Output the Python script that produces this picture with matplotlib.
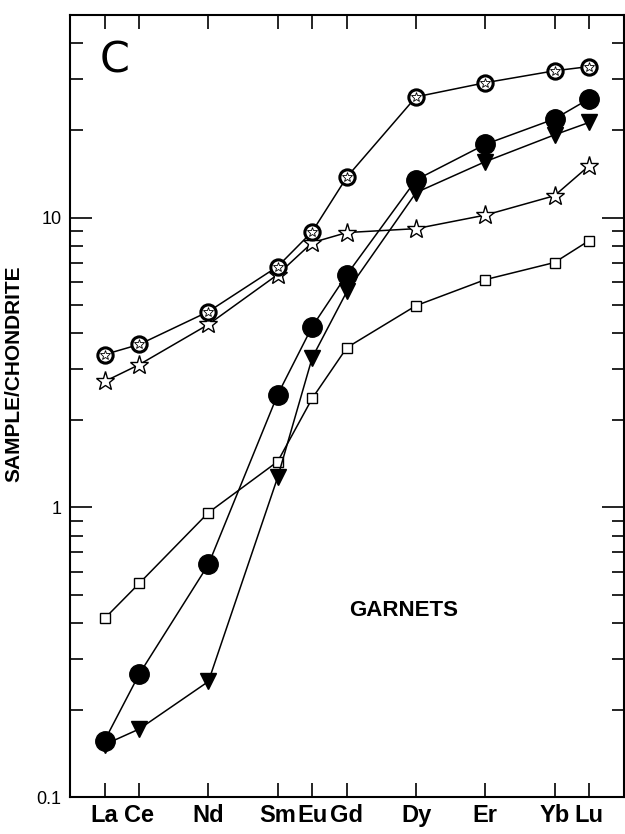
import numpy as np
import matplotlib
matplotlib.use("Agg")
import matplotlib.pyplot as plt
from matplotlib.ticker import LogLocator, NullFormatter, FixedLocator

# rare earth elements, plotted at their atomic numbers
elements = ["La", "Ce", "Nd", "Sm", "Eu", "Gd", "Dy", "Er", "Yb", "Lu"]
atomic_no = [57, 58, 60, 62, 63, 64, 66, 68, 70, 71]

# chondrite-normalised REE for five garnets
ree_circle_star = [3.37, 3.65, 4.74, 6.78, 8.95, 13.8, 26.1, 29.2, 32.1, 33.2]
ree_open_star = [2.72, 3.11, 4.28, 6.36, 8.2, 8.88, 9.16, 10.2, 11.9, 15.1]
ree_filled_circle = [0.157, 0.266, 0.636, 2.45, 4.21, 6.36, 13.5, 17.9, 21.9, 25.7]
ree_filled_tri = [0.152, 0.172, 0.251, 1.27, 3.29, 5.56, 12.2, 15.6, 19.3, 21.3]
ree_open_square = [0.414, 0.547, 0.96, 1.44, 2.38, 3.56, 4.97, 6.11, 7.0, 8.33]

bold_font = ["Liberation Sans", "DejaVu Sans"]

fig = plt.figure(figsize=(6.25, 8.34), dpi=100)
ax = fig.add_axes([0.112, 0.044, 0.886, 0.938])

lw = 1.1
ax.plot(atomic_no, ree_open_square, color="black", lw=lw, marker="s", ms=7.5,
        mfc="white", mec="black", mew=1.0, zorder=3)
ax.plot(atomic_no, ree_filled_tri, color="black", lw=lw, marker="v", ms=11,
        mfc="black", mec="black", zorder=3)
ax.plot(atomic_no, ree_filled_circle, color="black", lw=lw, marker="o", ms=14,
        mfc="black", mec="black", zorder=4)
ax.plot(atomic_no, ree_open_star, color="black", lw=lw, marker="*", ms=14,
        mfc="white", mec="black", mew=1.0, zorder=3)
ax.plot(atomic_no, ree_circle_star, color="black", lw=lw, marker="o", ms=11,
        mfc="white", mec="black", mew=2.2, zorder=5)
ax.plot(atomic_no, ree_circle_star, ls="none", marker="*", ms=7,
        mfc="white", mec="black", mew=0.6, zorder=6)

ax.set_yscale("log")
ax.set_ylim(0.1, 50)
ax.set_xlim(56, 72)

# element ticks along bottom and top
ax.xaxis.set_major_locator(FixedLocator(atomic_no))
ax.set_xticklabels(elements, fontfamily=bold_font, fontweight="bold", fontsize=17)
ax.tick_params(axis="x", which="major", direction="in", length=10, width=1.2,
               top=True, pad=5)

ax.yaxis.set_major_locator(FixedLocator([0.1, 1, 10]))
ax.set_yticklabels(["0.1", "1", "10"], fontsize=13, fontfamily=bold_font)
ax.yaxis.set_minor_locator(LogLocator(base=10, subs=np.arange(2, 10)))
ax.yaxis.set_minor_formatter(NullFormatter())
ax.tick_params(axis="y", which="major", direction="in", length=16, width=1.2,
               right=True, pad=6)
ax.tick_params(axis="y", which="minor", direction="in", length=9, width=1.2,
               right=True)

for s in ax.spines.values():
    s.set_linewidth(1.5)

ax.set_ylabel("SAMPLE/CHONDRITE", fontfamily=bold_font, fontweight="bold",
              fontsize=15)
ax.yaxis.set_label_coords(-0.085, 0.542)

ax.text(0.053, 0.927, "C", transform=ax.transAxes, fontsize=31,
        fontfamily="DejaVu Sans", va="baseline", ha="left")
ax.text(64.06, 0.44, "GARNETS", fontfamily=bold_font, fontweight="bold",
        fontsize=16, ha="left", va="center")

fig.savefig("out.png", dpi=100)
